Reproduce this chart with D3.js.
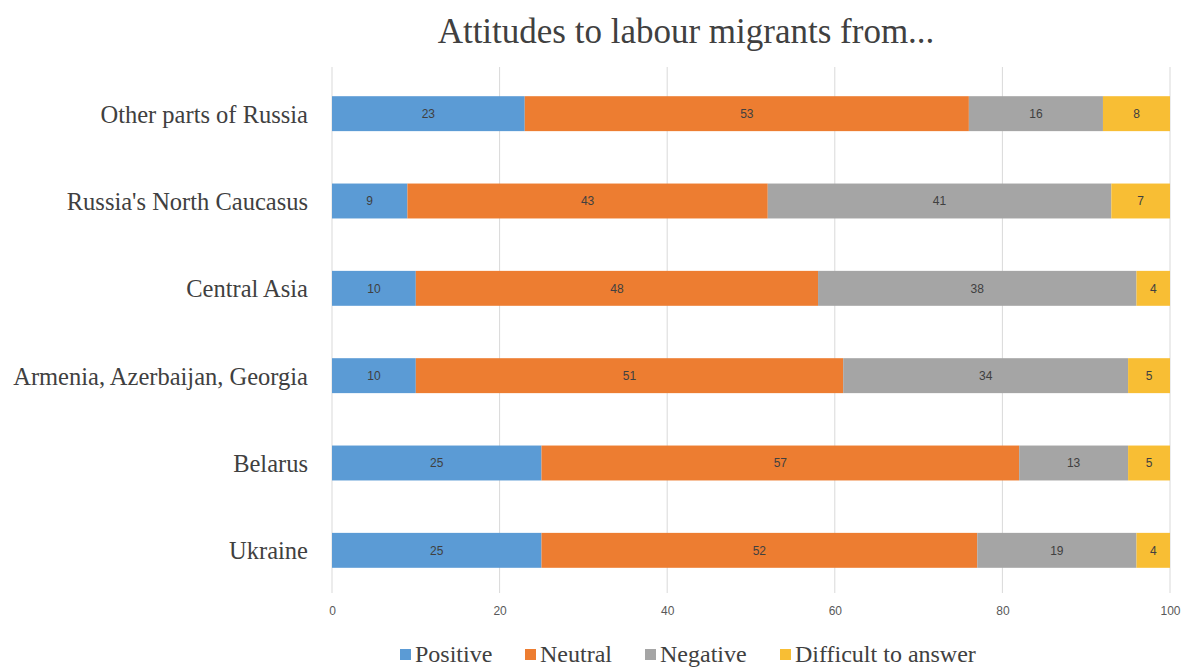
<!DOCTYPE html>
<html>
<head>
<meta charset="utf-8">
<script src="https://cdn.jsdelivr.net/npm/d3@7"></script>
<style>
  html, body { margin: 0; padding: 0; background: #fff; }
  svg { display: block; }
</style>
</head>
<body>
<svg id="chart" width="1187" height="670"></svg>
<script>
// Survey regions, top to bottom
const categories = [
  "Other parts of Russia",
  "Russia's North Caucasus",
  "Central Asia",
  "Armenia, Azerbaijan, Georgia",
  "Belarus",
  "Ukraine"
];
const seriesNames = ["Positive", "Neutral", "Negative", "Difficult to answer"];
const positive  = [23, 9, 10, 10, 25, 25];
const neutral   = [53, 43, 48, 51, 57, 52];
const negative  = [16, 41, 38, 34, 13, 19];
const difficult = [8, 7, 4, 5, 5, 4];
const xTicks = [0, 20, 40, 60, 80, 100];
const colors = ["#5B9BD5", "#ED7D31", "#A5A5A5", "#F8BE34"];

const seriesValues = [positive, neutral, negative, difficult];
const rows = categories.map((c, i) => {
  const r = { category: c };
  seriesNames.forEach((s, j) => r[s] = seriesValues[j][i]);
  return r;
});

const svg = d3.select("#chart");
const margin = { left: 332, right: 17, top: 70, bottom: 76 };
const W = 1187, H = 670;
const serif = "'Liberation Serif', 'Times New Roman', serif";
const sans = "'Liberation Sans', Arial, sans-serif";

const x = d3.scaleLinear().domain([0, 100]).range([margin.left, W - margin.right]);
const y = d3.scaleBand().domain(categories).range([margin.top, H - margin.bottom]).paddingInner(0.6).paddingOuter(0.3);

// Title
svg.append("text")
  .attr("x", 686).attr("y", 43)
  .attr("text-anchor", "middle")
  .attr("font-family", serif)
  .attr("font-size", 35)
  .attr("fill", "#404040")
  .text("Attitudes to labour migrants from...");

// Vertical gridlines
svg.append("g").selectAll("line").data(xTicks).join("line")
  .attr("x1", d => x(d)).attr("x2", d => x(d))
  .attr("y1", 67).attr("y2", 593)
  .attr("stroke", "#D9D9D9").attr("stroke-width", 1);

// X axis tick labels
const xAxis = d3.axisBottom(x).tickValues(xTicks).tickSize(0).tickPadding(0);
const gx = svg.append("g").attr("transform", "translate(0,606)").call(xAxis);
gx.select(".domain").remove();
gx.selectAll("text")
  .attr("font-family", sans)
  .attr("font-size", 12)
  .attr("fill", "#595959");

// Y axis category labels
const yAxis = d3.axisLeft(y).tickSize(0).tickPadding(24);
const gy = svg.append("g").attr("transform", `translate(${margin.left},1)`).call(yAxis);
gy.select(".domain").remove();
gy.selectAll("text")
  .attr("font-family", serif)
  .attr("font-size", 24.5)
  .attr("fill", "#404040");

// Stacked bars
const stack = d3.stack().keys(seriesNames);
const stacked = stack(rows);

const layers = svg.append("g").selectAll("g").data(stacked).join("g")
  .attr("fill", (d, i) => colors[i]);

layers.selectAll("rect").data(d => d).join("rect")
  .attr("x", d => x(d[0]))
  .attr("y", d => y(d.data.category))
  .attr("width", d => x(d[1]) - x(d[0]))
  .attr("height", y.bandwidth());

// Value labels
layers.selectAll("text").data(d => d.map(v => ({ v, key: d.key }))).join("text")
  .attr("x", d => (x(d.v[0]) + x(d.v[1])) / 2)
  .attr("y", d => y(d.v.data.category) + y.bandwidth() / 2)
  .attr("dy", "0.35em")
  .attr("text-anchor", "middle")
  .attr("font-family", sans)
  .attr("font-size", 12)
  .attr("fill", "#404040")
  .text(d => d.v.data[d.key]);

// Legend
const legendX = [400, 525, 645, 780];
const legend = svg.append("g").selectAll("g").data(seriesNames).join("g")
  .attr("transform", (d, i) => `translate(${legendX[i]},654)`);
legend.append("rect")
  .attr("x", 0).attr("y", -5).attr("width", 11).attr("height", 11)
  .attr("fill", (d, i) => colors[i]);
legend.append("text")
  .attr("x", 15).attr("y", 0).attr("dy", "0.35em")
  .attr("font-family", serif)
  .attr("font-size", 24)
  .attr("fill", "#404040")
  .text(d => d);
</script>
</body>
</html>
